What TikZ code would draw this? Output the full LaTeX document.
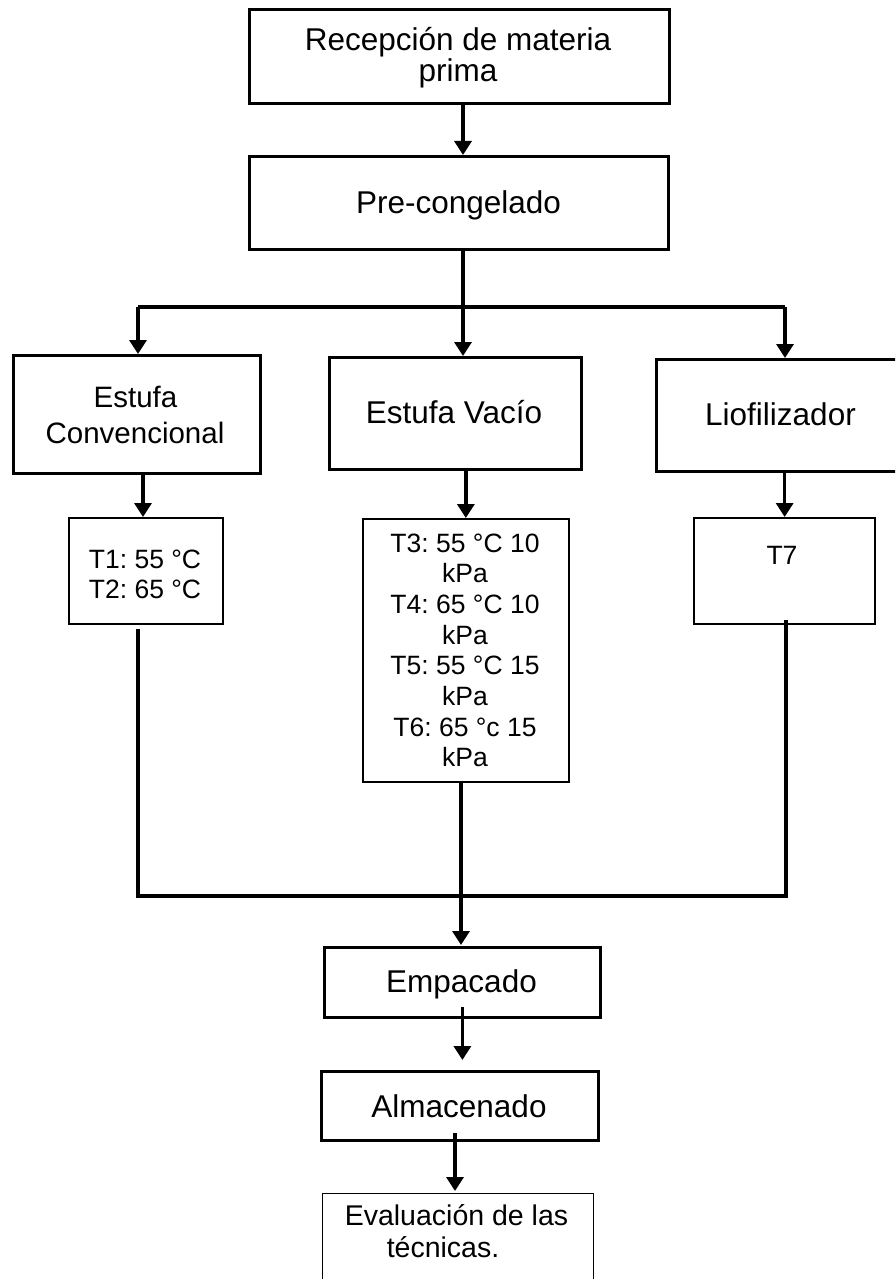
\documentclass[tikz,border=0pt]{standalone}
\usepackage{fontspec}
\setmainfont{Liberation Sans}
\usetikzlibrary{arrows.meta}
\frenchspacing
\begin{document}
\begin{tikzpicture}[x=1pt,y=-1pt,
  box/.style={draw, line width=2.8pt, inner sep=0pt, anchor=north west},
  sbox/.style={draw, line width=2.3pt, inner sep=0pt, anchor=north west},
  tbox/.style={draw, line width=1.7pt, inner sep=0pt, anchor=north west},
  ebox/.style={draw, line width=1.3pt, inner sep=0pt, anchor=north west},
  big/.style={font=\fontsize{31.5}{37}\selectfont, inner sep=0pt, anchor=base},
  mid/.style={font=\fontsize{29.5}{35}\selectfont, inner sep=0pt, anchor=base},
  evt/.style={font=\fontsize{28.5}{34}\selectfont, inner sep=0pt, anchor=base},
  small/.style={font=\fontsize{26.5}{31}\selectfont, inner sep=0pt, anchor=base},
  conn/.style={line width=3.3pt},
  arr/.style={conn, -{Triangle[length=14pt,width=17pt]}},
]
\clip (0,0) rectangle (895,1279);
\fill[white] (0,0) rectangle (895,1279);

% boxes
\node[box, minimum width=420pt, minimum height=94pt] (rec) at (248,8) {};
\node[box, minimum width=419pt, minimum height=93pt] (pre) at (248,155) {};
\node[box, minimum width=247pt, minimum height=118pt] (ec) at (12,354) {};
\node[box, minimum width=252pt, minimum height=112pt] (ev) at (328,356) {};
\node[box, minimum width=260pt, minimum height=112pt] (lio) at (655,358) {};
\node[sbox, minimum width=154pt, minimum height=106pt] (t12) at (68,517) {};
\node[tbox, minimum width=206pt, minimum height=263pt] (t36) at (362,518) {};
\node[sbox, minimum width=181pt, minimum height=106pt] (t7) at (693,517) {};
\node[box, minimum width=276pt, minimum height=70pt] (emp) at (323,946) {};
\node[box, minimum width=277pt, minimum height=69pt] (alm) at (320,1070) {};
\node[ebox, minimum width=271pt, minimum height=120pt] (eva) at (322,1193) {};

% texts
\node[big] (rec-a) at (458,51) {Recepción de materia};
\node[big] (rec-b) at (458,82) {prima};
\node[big] (pre-a) at (458.5,213) {Pre-congelado};
\node[mid] (ec-a) at (135.5,407) {Estufa};
\node[mid] (ec-b) at (135,443) {Convencional};
\node[big] (ev-a) at (454,423) {Estufa Vacío};
\node[big] (lio-a) at (780.5,425) {Liofilizador};
\node[small] (t12-a) at (145,568) {T1: 55 °C};
\node[small] (t12-b) at (145,598) {T2: 65 °C};
\node[small] (t36-a) at (465,552) {T3: 55 °C 10};
\node[small] (t36-b) at (465,582.7) {kPa};
\node[small] (t36-c) at (465,613.4) {T4: 65 °C 10};
\node[small] (t36-d) at (465,644.1) {kPa};
\node[small] (t36-e) at (465,674.8) {T5: 55 °C 15};
\node[small] (t36-f) at (465,705.5) {kPa};
\node[small] (t36-g) at (465,736.2) {T6: 65 °c 15};
\node[small] (t36-h) at (465,766.9) {kPa};
\node[small] (t7-a) at (782,564) {T7};
\node[big] (emp-a) at (461.5,992) {Empacado};
\node[big] (alm-a) at (459,1117) {Almacenado};
\node[evt] (eva-a) at (456.5,1225) {Evaluación de las};
\node[evt] (eva-b) at (443,1257) {técnicas.};

% connectors
\coordinate (split) at (463,307);
\coordinate (hl) at (138,307);
\coordinate (hr) at (785,307);
\coordinate (ml) at (138,896);
\coordinate (mr) at (786,896);
\coordinate (cm) at (461,896);

\draw[arr] (split |- rec.south) -- (split |- pre.north);
\draw[conn] (hl) -- (hr);
\draw[arr] (split |- pre.south) -- (split |- ev.north);
\draw[arr] (hl) -- (hl |- ec.north);
\draw[arr] (hr) -- (hr |- lio.north);

\draw[arr] (143,472) -- (143,517);
\draw[arr] (t36.north |- ev.south) -- (t36.north);
\draw[arr] (t7.north |- lio.south) -- (t7.north);

\draw[conn] ([yshift=-4pt]t12.south -| ml) -- (ml) -- (mr) -- ([yshift=5pt]t7.south -| mr);
\draw[arr] (cm |- t36.south) -- ([yshift=1pt]cm |- emp.north);
\draw[arr] ([yshift=12pt]emp.south) -- ([yshift=10pt]emp.south |- alm.north);
\draw[arr] (455,1133) -- (455,1191);
\end{tikzpicture}
\end{document}
